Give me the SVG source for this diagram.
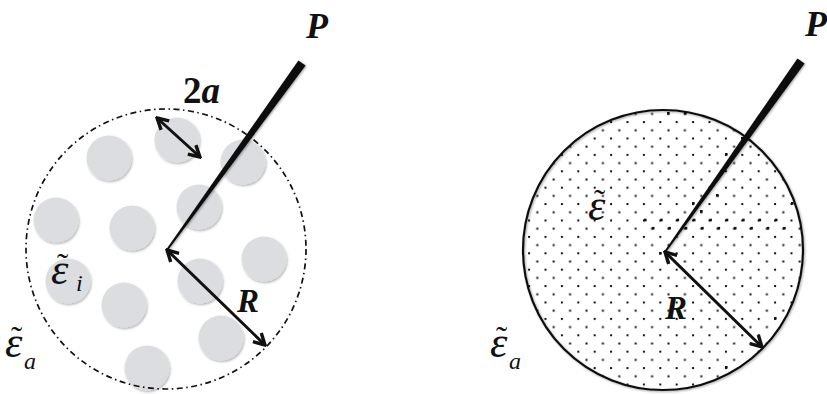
<svg xmlns="http://www.w3.org/2000/svg" width="827" height="394" viewBox="0 0 827 394">
<style>
text{font-family:"Liberation Serif","DejaVu Serif",serif;fill:#111}
.bi{font-weight:bold;font-style:italic}
.it{font-style:italic}
.b{font-weight:bold}
.eps{font-style:italic;font-size:44px}
.til{font-size:34px}
.sub{font-style:italic;font-size:24px}
.inc{fill:#dcdde0;filter:url(#sh)}
.arr{stroke:#111;stroke-width:3;fill:none;marker-start:url(#ah);marker-end:url(#ah)}
.probe{fill:#111;filter:url(#sh2)}
.big{fill:#111}
</style>
<defs>
<filter id="sh" x="-30%" y="-30%" width="160%" height="160%">
<feDropShadow dx="1" dy="1.5" stdDeviation="1.2" flood-color="#000" flood-opacity="0.3"/>
</filter>
<filter id="sh2" x="-30%" y="-30%" width="160%" height="160%">
<feDropShadow dx="1" dy="1" stdDeviation="1.2" flood-color="#000" flood-opacity="0.35"/>
</filter>
<marker id="ah" viewBox="0 0 16 16" refX="14" refY="8" markerWidth="16" markerHeight="16" markerUnits="userSpaceOnUse" orient="auto-start-reverse">
<path d="M3,2 L14,8 L3,14" fill="none" stroke="#111" stroke-width="3.4"/>
</marker>
<pattern id="dots" patternUnits="userSpaceOnUse" x="3.3" y="6.3" width="16.4" height="16.4">
<rect x="0" y="0" width="2" height="2" fill="#111"/>
<rect x="8.2" y="8.2" width="2" height="2" fill="#111"/>
</pattern>
</defs>

<g id="left-medium">
<g id="inclusions">
<circle class="inc" cx="109" cy="158" r="22.5"/>
<circle class="inc" cx="177" cy="140" r="22.5"/>
<circle class="inc" cx="243" cy="162" r="22.5"/>
<circle class="inc" cx="56" cy="220" r="22.5"/>
<circle class="inc" cx="132" cy="228" r="22.5"/>
<circle class="inc" cx="199" cy="207" r="22.5"/>
<circle class="inc" cx="264" cy="259" r="22.5"/>
<circle class="inc" cx="68" cy="281" r="22.5"/>
<circle class="inc" cx="200" cy="281" r="22.5"/>
<circle class="inc" cx="124" cy="305" r="22.5"/>
<circle class="inc" cx="221" cy="338" r="22.5"/>
<circle class="inc" cx="147" cy="368" r="22.5"/>
</g>
<circle id="left-boundary" cx="166" cy="249" r="140" fill="none" stroke="#111" stroke-width="1.7" stroke-dasharray="6 3.5 1.5 3.5"/>
</g>

<g id="right-medium">
<circle cx="663" cy="250" r="140" fill="#fff"/>
<circle cx="663" cy="250" r="140" fill="url(#dots)"/>
<g class="big">
<rect x="644" y="218.7" width="2.6" height="2.6"/>
<rect x="660.1" y="218.7" width="2.6" height="2.6"/>
<rect x="676.5" y="218.7" width="2.6" height="2.6"/>
<rect x="692.9" y="218.7" width="2.6" height="2.6"/>
<rect x="709.3" y="218.7" width="2.6" height="2.6"/>
<rect x="725.7" y="218.7" width="2.6" height="2.6"/>
<rect x="742.1" y="218.7" width="2.6" height="2.6"/>
<rect x="758.5" y="218.7" width="2.6" height="2.6"/>
<rect x="774.9" y="218.7" width="2.6" height="2.6"/>
<rect x="651.9" y="226.9" width="2.6" height="2.6"/>
<rect x="668.3" y="226.9" width="2.6" height="2.6"/>
<rect x="684.7" y="226.9" width="2.6" height="2.6"/>
<rect x="701.1" y="226.9" width="2.6" height="2.6"/>
<rect x="717.5" y="226.9" width="2.6" height="2.6"/>
<rect x="733.9" y="226.9" width="2.6" height="2.6"/>
<rect x="750.3" y="226.9" width="2.6" height="2.6"/>
<rect x="766.7" y="226.9" width="2.6" height="2.6"/>
<rect x="783.1" y="226.9" width="2.6" height="2.6"/>
<rect x="667" y="112" width="2.6" height="2.6"/>
<rect x="684" y="112" width="2.6" height="2.6"/>
<rect x="725" y="153" width="2.6" height="2.6"/>
<rect x="741" y="137" width="2.6" height="2.6"/>
<rect x="709" y="186" width="2.6" height="2.6"/>
<rect x="716" y="194" width="2.6" height="2.6"/>
<rect x="692" y="202" width="2.6" height="2.6"/>
<rect x="700" y="210" width="2.6" height="2.6"/>
<rect x="791" y="202" width="2.6" height="2.6"/>
<rect x="659" y="252" width="2.6" height="2.6"/>
<rect x="774" y="317" width="2.6" height="2.6"/>
<rect x="725" y="366" width="2.6" height="2.6"/>
</g>
<circle cx="663" cy="250" r="140" fill="none" stroke="#111" stroke-width="2.2" filter="url(#sh2)"/>
</g>

<g id="connectors">
<polygon id="probe-left" class="probe" points="305.6,65.5 298.4,60.5 166.2,249.4 167.8,250.6"/>
<polygon id="probe-right" class="probe" points="804.6,63.5 797.4,58.5 664.2,251.4 665.8,252.6"/>
<line id="arrow-2a" class="arr" x1="157" y1="118" x2="200" y2="157"/>
<line id="arrow-R-left" class="arr" x1="167" y1="250" x2="265" y2="345"/>
<line id="arrow-R-right" class="arr" x1="665" y1="252" x2="762" y2="347"/>
</g>

<g id="labels">
<text class="bi" x="306" y="38" font-size="36">P</text>
<text class="bi" x="805" y="36" font-size="36">P</text>
<text x="183" y="103" font-size="37"><tspan class="b">2</tspan><tspan class="bi">a</tspan></text>
<text class="bi" x="237" y="312" font-size="33">R</text>
<text class="bi" x="665" y="319" font-size="33">R</text>
<text><tspan class="eps" x="51" y="284">ε</tspan><tspan class="til" x="57" y="277">˜</tspan><tspan class="sub" x="76" y="291">i</tspan></text>
<text><tspan class="eps" x="5" y="357">ε</tspan><tspan class="til" x="11" y="350">˜</tspan><tspan class="sub" x="24" y="369">a</tspan></text>
<text><tspan class="eps" x="490" y="357">ε</tspan><tspan class="til" x="496" y="350">˜</tspan><tspan class="sub" x="509" y="369">a</tspan></text>
<text><tspan class="eps" x="588" y="220">ε</tspan><tspan class="til" x="594" y="213">˜</tspan></text>
</g>
</svg>
